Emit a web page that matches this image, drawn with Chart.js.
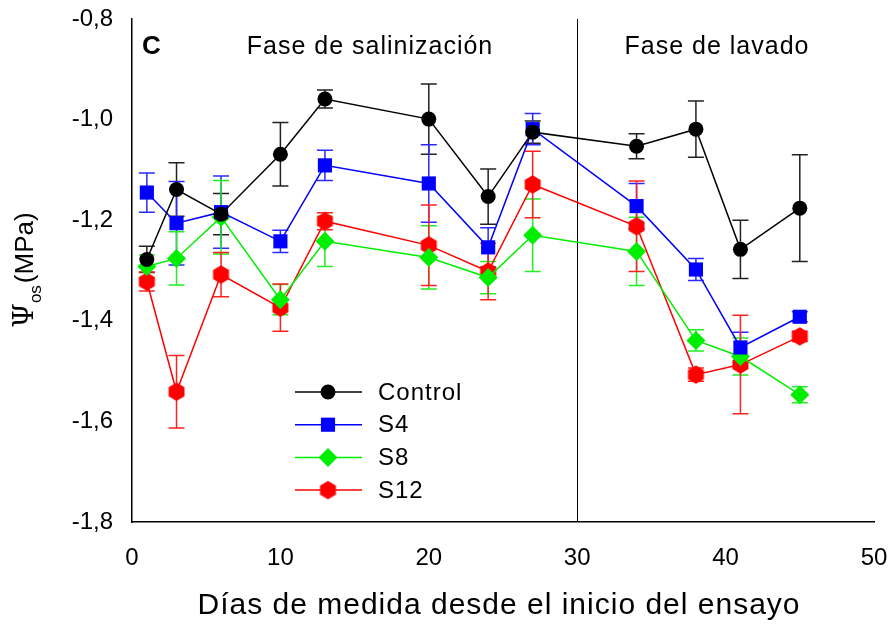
<!DOCTYPE html>
<html>
<head>
<meta charset="utf-8">
<script src="https://cdn.jsdelivr.net/npm/chart.js@4"></script>
<style>
  body { margin: 0; background: #fff; }
  #wrap { width: 890px; height: 625px; }
</style>
</head>
<body>
<div id="wrap"><canvas id="chart" width="890" height="625"></canvas></div>
<script>
// measurement days
const days = [1, 3, 6, 10, 13, 20, 24, 27, 34, 38, 41, 45];

// osmotic potential (MPa) and error bars per treatment
const control = [-1.278, -1.139, -1.188, -1.069, -0.959, -0.999, -1.153, -1.025, -1.053, -1.019, -1.258, -1.176];
const controlErr = [0.026, 0.053, 0.041, 0.063, 0.018, 0.07, 0.055, 0.022, 0.025, 0.056, 0.058, 0.106];
const s4 = [-1.145, -1.206, -1.184, -1.242, -1.091, -1.127, -1.254, -1.019, -1.172, -1.298, -1.453, -1.392];
const s4Err = [0.039, 0.083, 0.072, 0.022, 0.03, 0.077, 0.039, 0.031, 0.045, 0.022, 0.03, 0.01];
const s8 = [-1.292, -1.276, -1.194, -1.358, -1.242, -1.274, -1.314, -1.23, -1.262, -1.439, -1.471, -1.547];
const s8Err = [0.023, 0.053, 0.073, 0.03, 0.05, 0.063, 0.032, 0.072, 0.068, 0.021, 0.037, 0.016];
const s12 = [-1.322, -1.541, -1.308, -1.374, -1.202, -1.25, -1.302, -1.129, -1.212, -1.507, -1.487, -1.431];
const s12Err = [0.019, 0.072, 0.044, 0.047, 0.017, 0.08, 0.056, 0.066, 0.09, 0.013, 0.098, 0.01];

const seriesNames = ['Control', 'S4', 'S8', 'S12'];
const phaseLabels = ['Fase de salinización', 'Fase de lavado'];
const phaseSplit = 30;

const FONT = '"Liberation Sans", Arial, sans-serif';

// pointy-top hexagon marker for S12
function hexagon(color, r) {
  const c = document.createElement('canvas');
  c.width = c.height = Math.ceil(r * 2 + 2);
  const g = c.getContext('2d');
  const m = c.width / 2;
  g.fillStyle = color;
  g.beginPath();
  for (let i = 0; i < 6; i++) {
    const a = Math.PI / 3 * i - Math.PI / 2;
    const x = m + r * Math.cos(a), y = m + r * Math.sin(a);
    i === 0 ? g.moveTo(x, y) : g.lineTo(x, y);
  }
  g.closePath();
  g.fill();
  return c;
}
const hexRed = hexagon('#ff0000', 9.2);

function pts(vals, errs) {
  return days.map((d, i) => ({ x: d, y: vals[i], e: errs[i] }));
}

const styles = [
  { color: '#000000', bar: '#222222', pointStyle: 'circle', radius: 7.5 },
  { color: '#0000ff', bar: '#2a2aff', pointStyle: 'rect', radius: 10 },
  { color: '#00ee00', bar: '#22ee22', pointStyle: 'rectRot', radius: 9.5 },
  { color: '#ff0000', bar: '#ff2020', pointStyle: hexRed, radius: 9 }
];

const allData = [pts(control, controlErr), pts(s4, s4Err), pts(s8, s8Err), pts(s12, s12Err)];

const datasets = allData.map((data, k) => ({
  label: seriesNames[k],
  data: data,
  showLine: true,
  borderColor: styles[k].color,
  backgroundColor: styles[k].color,
  borderWidth: 1.5,
  pointStyle: styles[k].pointStyle,
  pointRadius: styles[k].radius,
  pointBorderWidth: 0,
  pointBackgroundColor: styles[k].color,
  pointBorderColor: styles[k].color,
  errColor: styles[k].bar
}));

// error bars under the lines and markers
const errorBars = {
  id: 'errorBars',
  beforeDatasetsDraw(chart) {
    const ctx = chart.ctx, xs = chart.scales.x, ys = chart.scales.y;
    ctx.save();
    chart.data.datasets.forEach(ds => {
      ctx.strokeStyle = ds.errColor;
      ctx.lineWidth = 1.5;
      ds.data.forEach(p => {
        const x = xs.getPixelForValue(p.x);
        const y1 = ys.getPixelForValue(p.y + p.e);
        const y2 = ys.getPixelForValue(p.y - p.e);
        ctx.beginPath();
        ctx.moveTo(x, y1); ctx.lineTo(x, y2);
        ctx.moveTo(x - 8, y1); ctx.lineTo(x + 8, y1);
        ctx.moveTo(x - 8, y2); ctx.lineTo(x + 8, y2);
        ctx.stroke();
      });
    });
    ctx.restore();
  }
};

// phase line, panel letter, titles and legend
const decorations = {
  id: 'decorations',
  beforeDatasetsDraw(chart) {
    const ctx = chart.ctx, a = chart.chartArea, xs = chart.scales.x;
    const xl = Math.round(xs.getPixelForValue(phaseSplit)) + 0.5;
    ctx.save();
    ctx.strokeStyle = '#000';
    ctx.lineWidth = 1;
    ctx.beginPath();
    ctx.moveTo(xl, a.top); ctx.lineTo(xl, a.bottom);
    ctx.stroke();
    ctx.restore();
  },
  afterDraw(chart) {
    const ctx = chart.ctx, a = chart.chartArea;
    ctx.save();
    ctx.fillStyle = '#000';
    ctx.textBaseline = 'middle';
    ctx.font = 'bold 26px ' + FONT;
    ctx.textAlign = 'left';
    ctx.fillText('C', a.left + 10, 47);
    ctx.font = '25px ' + FONT;
    ctx.letterSpacing = '1px';
    ctx.textAlign = 'center';
    ctx.fillText(phaseLabels[0], 370, 47);
    ctx.fillText(phaseLabels[1], 717, 47);

    // x title
    ctx.font = '30px ' + FONT;
    ctx.fillText('Días de medida desde el inicio del ensayo', 499, 606);
    ctx.letterSpacing = '0px';

    // y title with subscript
    ctx.translate(26, 270);
    ctx.rotate(-Math.PI / 2);
    ctx.textAlign = 'left';
    ctx.font = '28px "DejaVu Serif", serif';
    const psi = 'Ψ';
    const w1 = ctx.measureText(psi).width;
    ctx.font = '17px ' + FONT;
    const w2 = ctx.measureText('os').width;
    ctx.font = '26px ' + FONT;
    const w3 = ctx.measureText('(MPa)').width;
    let x0 = -(w1 + w2 + w3 + 2) / 2;
    ctx.font = '28px "DejaVu Serif", serif';
    ctx.fillText(psi, x0, 0);
    ctx.font = '17px ' + FONT;
    ctx.fillText('os', x0 + w1, 10);
    ctx.font = '26px ' + FONT;
    ctx.fillText('(MPa)', x0 + w1 + w2 + 2, 0);
    ctx.restore();

    // legend
    ctx.save();
    const lx = 295, ly = 392, step = 32.7;
    chart.data.datasets.forEach((ds, k) => {
      const y = ly + k * step;
      ctx.strokeStyle = ds.borderColor;
      ctx.lineWidth = 1.5;
      ctx.beginPath();
      ctx.moveTo(lx, y); ctx.lineTo(lx + 67, y);
      ctx.stroke();
      ctx.fillStyle = ds.pointBackgroundColor;
      Chart.helpers.drawPoint(ctx, {
        pointStyle: ds.pointStyle, radius: ds.pointRadius, borderWidth: 0, rotation: 0
      }, lx + 33, y);
      ctx.fillStyle = '#000';
      ctx.font = '24px ' + FONT;
      ctx.letterSpacing = '1px';
      ctx.textAlign = 'left';
      ctx.textBaseline = 'middle';
      ctx.fillText(ds.label, lx + 83, y + 1);
    });
    ctx.restore();
  }
};

const chart = new Chart(document.getElementById('chart'), {
  type: 'scatter',
  data: { datasets: datasets },
  options: {
    responsive: false,
    animation: false,
    layout: { padding: { top: 19, right: 16, left: 0, bottom: 0 } },
    plugins: { legend: { display: false }, tooltip: { enabled: false } },
    scales: {
      x: {
        type: 'linear',
        min: 0, max: 50,
        ticks: { stepSize: 10, color: '#000', font: { family: FONT, size: 24 }, padding: 15, maxRotation: 0 },
        grid: { display: false, drawOnChartArea: false, drawTicks: true, tickLength: 7, tickColor: '#000' },
        border: { display: true, color: '#000', width: 1.5 },
        afterFit(s) { s.height = 103; s.paddingLeft = 0; s.paddingRight = 0; }
      },
      y: {
        type: 'linear',
        min: -1.8, max: -0.8,
        ticks: {
          stepSize: 0.2, color: '#000', font: { family: FONT, size: 24 }, padding: 12,
          callback: v => v.toFixed(1).replace('.', ',')
        },
        grid: { display: false, drawOnChartArea: false, drawTicks: true, tickLength: 7, tickColor: '#000' },
        border: { display: true, color: '#000', width: 1.5 },
        afterFit(s) { s.width = 132; s.paddingTop = 0; s.paddingBottom = 0; }
      }
    }
  },
  plugins: [errorBars, decorations]
});
</script>
</body>
</html>
